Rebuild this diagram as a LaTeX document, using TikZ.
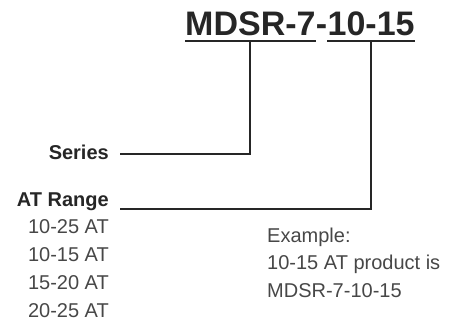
\documentclass[tikz,border=0pt]{standalone}
\usepackage{fontspec}
\setmainfont{Liberation Sans}

\tikzset{
  code/.style={font=\bfseries\fontsize{34}{40}\selectfont, text=black!85, inner sep=0pt, anchor=base west},
  head/.style={font=\bfseries\fontsize{20}{24}\selectfont, text=black!85, inner sep=0pt, anchor=base east},
  plain/.style={font=\fontsize{20}{24}\selectfont, text=black!72, inner sep=0pt},
  rule/.style={line width=2pt, draw=black!85},
}

\begin{document}
\begin{tikzpicture}[x=1pt,y=-1pt]
\useasboundingbox (0,0) rectangle (452,322);
% part number
\node[code] (ser) at (185,35) {MDSR-7};
\node[code] (sep) at (ser.base east) {-};
\node[code] (rng) at (sep.base east) {10-15};
\coordinate (sertick) at ([yshift=-6pt]ser.base);
\coordinate (rngtick) at ([yshift=-6pt]rng.base);
\draw[rule] ([yshift=-6pt]ser.base west) -- ([yshift=-6pt]ser.base east);
\draw[rule] ([yshift=-6pt]rng.base west) -- ([yshift=-6pt]rng.base east);
% labels and leaders
\node[head] (serlbl) at (109,159) {Series};
\node[head] (rnglbl) at (109,206) {AT Range};
\coordinate (serend) at ([xshift=11pt,yshift=5pt]serlbl.base east);
\coordinate (rngend) at ([xshift=11pt,yshift=-3pt]rnglbl.base east);
\draw[rule] (serend) -| (sertick);
\draw[rule] (rngend) -| (rngtick);
% ranges
\foreach \i/\t in {0/10-25,1/10-15,2/15-20,3/20-25}
  \node[plain,anchor=base east] (at\i) at (109,233+28*\i) {\t\ AT};
% example
\foreach \i/\t in {0/Example:,1/10-15 AT product is,2/MDSR-7-10-15}
  \node[plain,anchor=base west] (ex\i) at (267,242+27.5*\i) {\t};
\end{tikzpicture}
\end{document}
